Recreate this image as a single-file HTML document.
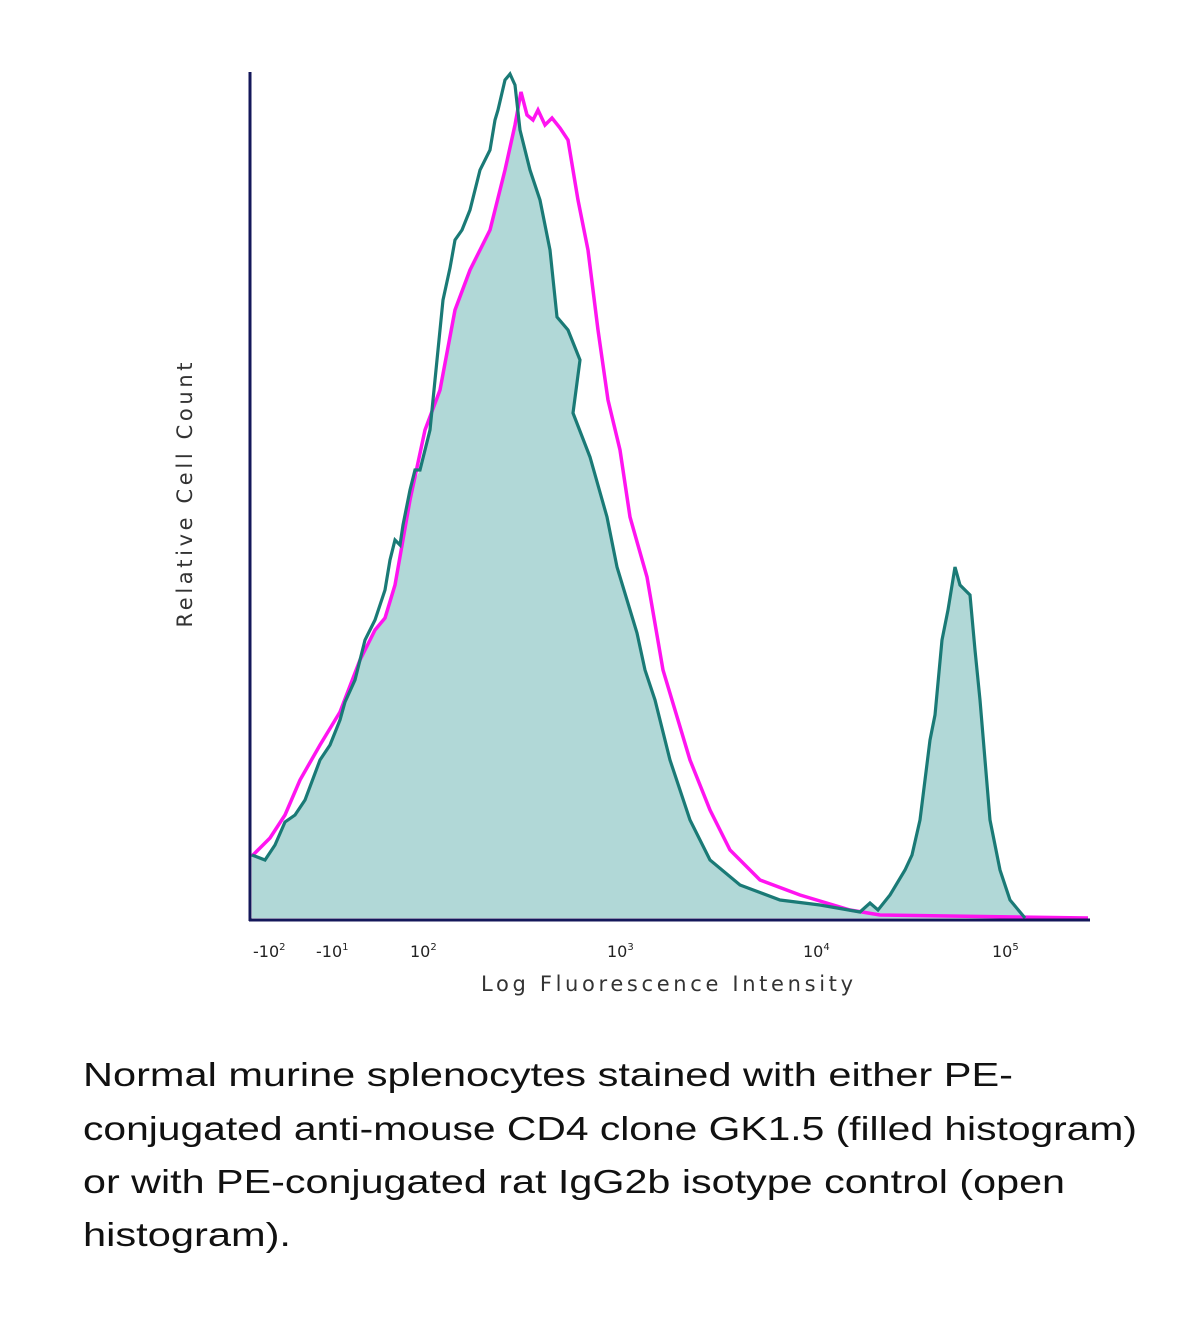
<!DOCTYPE html>
<html><head><meta charset="utf-8"><style>
html,body{margin:0;padding:0;background:#fff;}
svg{display:block;}
</style></head><body>
<svg width="1200" height="1320" viewBox="0 0 1200 1320" xmlns="http://www.w3.org/2000/svg">
<defs>
<clipPath id="cp">
<polygon points="250,918 252,856 270,838 285,815 300,780 320,745 340,712 360,660 375,630 385,618 395,585 410,500 425,430 440,390 455,310 470,270 490,230 505,170 515,125 521,92 530,115 545,125 560,128 568,140 578,200 588,250 598,330 608,400 620,450 630,517 647,577 663,670 690,760 710,810 730,850 760,880 800,895 845,905 845,0 1100,0 1100,930 250,930"/>
</clipPath>
</defs>
<g clip-path="url(#cp)">
<polygon fill="#b1d8d7" points="252,918 252,855 265,860 275,845 285,822 295,815 305,800 320,760 330,745 340,720 345,702 355,680 365,640 375,620 385,590 390,560 395,540 400,545 403,525 410,490 420,470 430,430 435,335 443,300 450,268 455,240 462,230 470,210 480,170 490,150 498,110 505,80 510,74 515,85 520,130 530,170 540,200 550,250 557,317 568,330 580,360 573,413 590,457 607,517 617,567 637,633 645,670 655,700 670,760 690,820 710,860 740,885 780,900 820,905 860,912 870,903 878,910 890,895 905,870 912,855 920,820 925,780 930,740 935,715 942,640 948,610 955,567 960,585 965,590 970,595 975,650 980,700 985,760 990,820 1000,870 1010,900 1025,918"/>
</g>
<polyline fill="none" stroke="#ff14f0" stroke-width="3.5" points="252,856 270,838 285,815 300,780 320,745 340,712 360,660 375,630 385,618 395,585 410,500 425,430 440,390 455,310 470,270 490,230 505,170 515,125 521,92 527,115 533,120 538,110 545,125 552,118 560,128 568,140 578,200 588,250 598,330 608,400 620,450 630,517 647,577 663,670 690,760 710,810 730,850 760,880 800,895 850,910 880,915 1088,918"/>
<polyline fill="none" stroke="#1a7a76" stroke-width="3.2" points="252,855 265,860 275,845 285,822 295,815 305,800 320,760 330,745 340,720 345,702 355,680 365,640 375,620 385,590 390,560 395,540 400,545 403,525 410,490 415,470 420,470 430,430 435,380 443,300 450,268 455,240 462,230 470,210 480,170 490,150 495,120 498,110 505,80 510,74 515,85 520,130 530,170 540,200 550,250 557,317 568,330 580,360 573,413 590,457 607,517 617,567 637,633 645,670 655,700 670,760 690,820 710,860 740,885 780,900 820,905 860,912 870,903 878,910 890,895 905,870 912,855 920,820 925,780 930,740 935,715 942,640 948,610 955,567 960,585 965,590 970,595 975,650 980,700 985,760 990,820 1000,870 1010,900 1025,918"/>
<line x1="250" y1="72" x2="250" y2="921" stroke="#14175a" stroke-width="3"/>
<line x1="249" y1="920" x2="1090" y2="920" stroke="#14175a" stroke-width="3"/>
<g font-family="DejaVu Sans, sans-serif" font-size="16" fill="#222">
<text x="253" y="957">-10<tspan dy="-7" font-size="10">2</tspan></text>
<text x="316" y="957">-10<tspan dy="-7" font-size="10">1</tspan></text>
<text x="410" y="957">10<tspan dy="-7" font-size="10">2</tspan></text>
<text x="607" y="957">10<tspan dy="-7" font-size="10">3</tspan></text>
<text x="803" y="957">10<tspan dy="-7" font-size="10">4</tspan></text>
<text x="992" y="957">10<tspan dy="-7" font-size="10">5</tspan></text>
</g>
<text x="667" y="991" text-anchor="middle" font-family="DejaVu Sans, sans-serif" font-size="21" fill="#333" textLength="372">Log Fluorescence Intensity</text>
<text transform="translate(192,495) rotate(-90)" text-anchor="middle" font-family="DejaVu Sans, sans-serif" font-size="21" fill="#333" textLength="265">Relative Cell Count</text>
<g font-family="Liberation Sans, sans-serif" font-size="33" fill="#111">
<text x="83" y="1086" textLength="930" lengthAdjust="spacingAndGlyphs">Normal murine splenocytes stained with either PE-</text>
<text x="83" y="1140" textLength="1054" lengthAdjust="spacingAndGlyphs">conjugated anti-mouse CD4 clone GK1.5 (filled histogram)</text>
<text x="83" y="1193" textLength="982" lengthAdjust="spacingAndGlyphs">or with PE-conjugated rat IgG2b isotype control (open</text>
<text x="83" y="1246" textLength="208" lengthAdjust="spacingAndGlyphs">histogram).</text>
</g>
</svg>
</body></html>
